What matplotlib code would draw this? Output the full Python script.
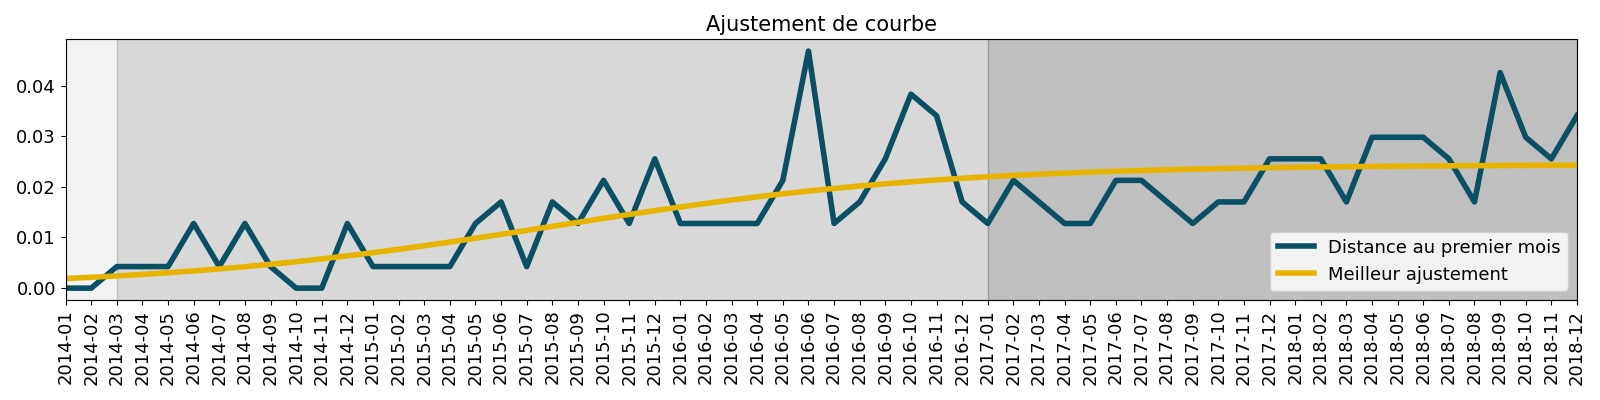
import numpy as np
import matplotlib
matplotlib.use('Agg')
import matplotlib.pyplot as plt

plt.rcParams['font.size'] = 13

months = ['%d-%02d' % (y, m) for y in range(2014, 2019) for m in range(1, 13)]

# distance au premier mois (multiples of 1/235)
unit = 1 / 235
counts = [0, 0, 1, 1, 1, 3, 1, 3, 1, 0, 0, 3,
          1, 1, 1, 1, 3, 4, 1, 4, 3, 5, 3, 6,
          3, 3, 3, 3, 5, 11, 3, 4, 6, 9, 8, 4,
          3, 5, 4, 3, 3, 5, 5, 4, 3, 4, 4, 6,
          6, 6, 4, 7, 7, 7, 6, 4, 10, 7, 6, 8]
distance = [c * unit for c in counts]

# meilleur ajustement
fit = [0.001903, 0.002144, 0.002412, 0.002710, 0.003039, 0.003403, 0.003801, 0.004237,
       0.004711, 0.005226, 0.005779, 0.006372, 0.007003, 0.007670, 0.008368, 0.009098,
       0.009851, 0.010623, 0.011407, 0.012200, 0.012992, 0.013777, 0.014549, 0.015303,
       0.016032, 0.016731, 0.017398, 0.018027, 0.018620, 0.019175, 0.019689, 0.020164,
       0.020599, 0.020998, 0.021360, 0.021691, 0.021988, 0.022257, 0.022497, 0.022712,
       0.022906, 0.023078, 0.023231, 0.023367, 0.023489, 0.023598, 0.023692, 0.023775,
       0.023849, 0.023917, 0.023973, 0.024025, 0.024070, 0.024111, 0.024144, 0.024175,
       0.024204, 0.024226, 0.024247, 0.024267]

# periods shaded in the background
periods = [('2014-01', '2014-03', 0.1), ('2014-03', '2017-01', 0.3), ('2017-01', '2018-12', 0.5)]

fig, ax = plt.subplots(figsize=(16, 4), dpi=100)
x = np.arange(len(months))

for start, end, a in periods:
    ax.axvspan(months.index(start), months.index(end), color='grey', alpha=a)

ax.plot(x, distance, color='#0b4f63', lw=4, label='Distance au premier mois')
ax.plot(x, fit, color='#e6b400', lw=4, label='Meilleur ajustement')

ax.set_xlim(0, len(months) - 1)
ax.set_xticks(x)
ax.set_xticklabels(months, rotation=90)
ax.set_yticks([0, 0.01, 0.02, 0.03, 0.04])
ax.set_title('Ajustement de courbe', fontsize=15)
ax.legend(loc='lower right')

fig.subplots_adjust(left=0.041, right=0.9856, top=0.902, bottom=0.25)
fig.savefig('out.png')
